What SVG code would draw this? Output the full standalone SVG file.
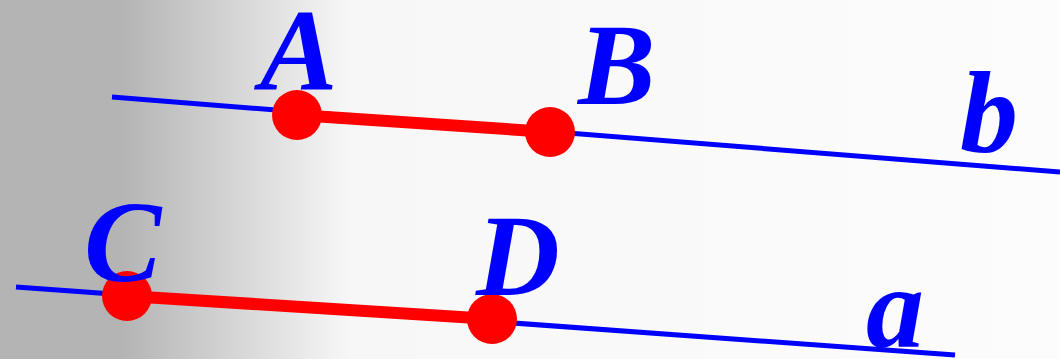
<svg xmlns="http://www.w3.org/2000/svg" width="1060" height="359" viewBox="0 0 1060 359">
  <defs>
    <linearGradient id="bg" x1="0" y1="0" x2="1060" y2="0" gradientUnits="userSpaceOnUse">
      <stop offset="0" stop-color="#b4b4b4"/>
      <stop offset="0.115" stop-color="#b4b4b4"/>
      <stop offset="0.33" stop-color="#f7f7f7"/>
      <stop offset="1" stop-color="#fcfcfc"/>
    </linearGradient>
    <style>
      .line { stroke: #0000ff; stroke-width: 5; fill: none; }
      .seg { stroke: #ff0000; stroke-width: 12; fill: none; }
      .pt { fill: #ff0000; }
      .lbl { font-family: "Liberation Serif", "Times New Roman", serif; font-weight: bold; font-style: italic; font-size: 116px; fill: #0000ff; }
    </style>
  </defs>
  <rect x="0" y="0" width="1060" height="359" fill="url(#bg)"/>
  <g id="connectors">
    <line id="line-b" class="line" x1="112" y1="97" x2="1060" y2="172"/>
    <line id="line-a" class="line" x1="16" y1="287" x2="955" y2="355"/>
    <line id="seg-AB" class="seg" x1="297" y1="115" x2="550" y2="132"/>
    <line id="seg-CD" class="seg" x1="127" y1="296" x2="492" y2="319"/>
  </g>
  <g id="node-A"><circle class="pt" cx="297" cy="115" r="25"/><text class="lbl" x="260" y="89">A</text></g>
  <g id="node-B"><circle class="pt" cx="550" cy="132" r="25"/><text class="lbl" x="578" y="104">B</text></g>
  <g id="node-C"><circle class="pt" cx="127" cy="296" r="25"/><text class="lbl" x="84" y="281">C</text></g>
  <g id="node-D"><circle class="pt" cx="492" cy="319" r="25"/><text class="lbl" x="476" y="295">D</text></g>
  <g id="label-b"><text class="lbl" x="960" y="152">b</text></g>
  <g id="label-a"><text class="lbl" x="866" y="347">a</text></g>
</svg>
